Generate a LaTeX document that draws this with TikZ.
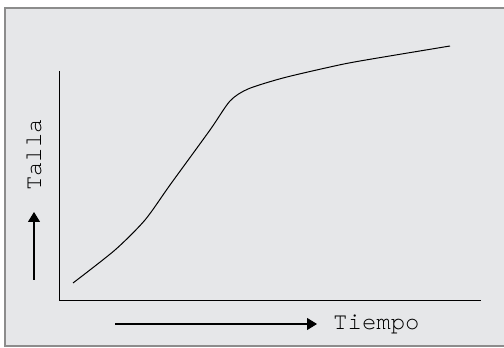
\documentclass[tikz,border=0pt]{standalone}
\usepackage{fontspec}
\setmonofont{texgyrecursor-regular.otf}
\usetikzlibrary{arrows.meta}
\definecolor{panel}{RGB}{230,231,233}
\definecolor{rim}{RGB}{140,140,140}
\tikzset{
  eje/.style={line width=1pt},
  flecha/.style={line width=1.1pt,-{Triangle[length=10pt,width=12pt]}},
  rotulo/.style={font=\ttfamily\fontsize{24}{24}\selectfont,inner sep=0pt}
}

\begin{document}
\begin{tikzpicture}[x=1pt,y=1pt]
        \useasboundingbox (0,0) rectangle (504,348);
        \begin{scope}
        \clip (0,0) rectangle (504,348);
        \draw[rim,fill=panel,line width=2pt] (5,2) rectangle (520,340);
        \end{scope}
        % ejes
        \coordinate (O) at (59,47);
        \coordinate (Ytop) at (59,277);
        \coordinate (Xend) at (481,47);
        \draw[eje] (Ytop) -- (O) -- (Xend);
        % rotulos
        \node[rotulo,anchor=west] (tiempo) at (333,24) {Tiempo};
        \coordinate (T0) at (115,24);
        \coordinate (T1) at (317,24);
        \draw[flecha] (T0) -- (T1);
        \node[rotulo,rotate=90] (talla) at (34,193) {Talla};
        \coordinate (A0) at (34,68);
        \coordinate (A1) at (34,136);
        \draw[flecha] (A0) -- (A1);
        % curva
        \draw[line width=1pt] plot[smooth,tension=0.45] coordinates {
          (73,65) (115,98) (145,128) (170,163) (210,218) (230,247)
          (248,259) (283,270) (330,281) (360,287) (450,302)};
    \end{tikzpicture}
\end{document}
